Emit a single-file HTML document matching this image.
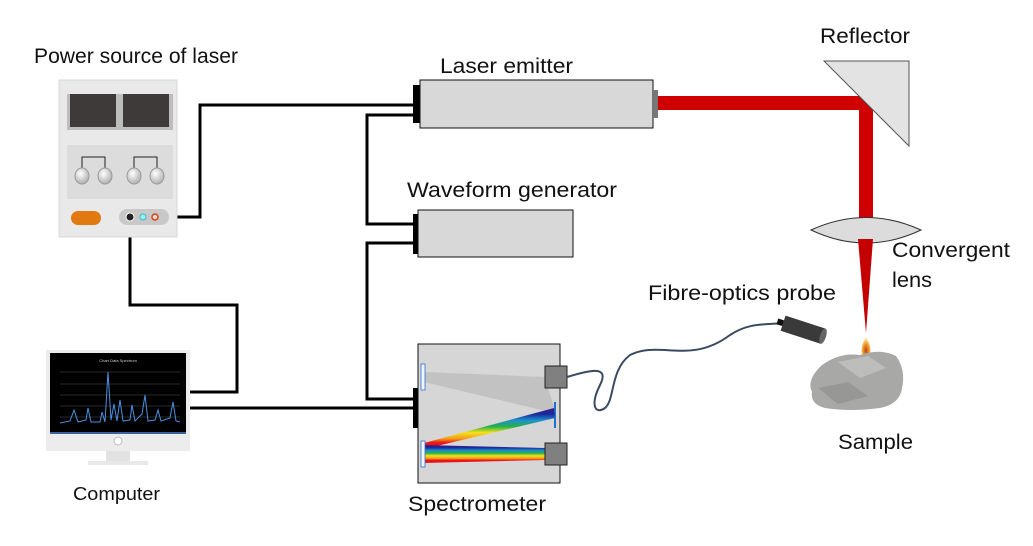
<!DOCTYPE html>
<html><head><meta charset="utf-8"><style>
html,body{margin:0;padding:0;background:#fff;}
svg{display:block;}
text{font-family:"Liberation Sans",sans-serif;fill:#111;}
</style></head><body>
<svg width="1033" height="546" viewBox="0 0 1033 546" xmlns="http://www.w3.org/2000/svg">
<defs>
<linearGradient id="rb" x1="0" y1="0" x2="0" y2="1">
<stop offset="0" stop-color="#3b1a8c"/><stop offset="0.15" stop-color="#1a2a9a"/><stop offset="0.3" stop-color="#1e8fd0"/><stop offset="0.45" stop-color="#22b04a"/><stop offset="0.6" stop-color="#f5e21a"/><stop offset="0.75" stop-color="#f59a1a"/><stop offset="0.85" stop-color="#e8141a"/><stop offset="1" stop-color="#e8141a"/>
</linearGradient>
<radialGradient id="knob" cx="0.4" cy="0.35" r="0.7"><stop offset="0" stop-color="#fff"/><stop offset="1" stop-color="#aaa"/></radialGradient>
<radialGradient id="fl" cx="0.5" cy="0.7" r="0.6"><stop offset="0" stop-color="#c0401a"/><stop offset="0.6" stop-color="#f0a030"/><stop offset="1" stop-color="#ffe9a0"/></radialGradient>
</defs>

<!-- labels -->
<text x="34" y="63" font-size="21" textLength="204" lengthAdjust="spacingAndGlyphs">Power source of laser</text>
<text x="440" y="73" font-size="21" textLength="133" lengthAdjust="spacingAndGlyphs">Laser emitter</text>
<text x="820" y="43" font-size="21" textLength="90" lengthAdjust="spacingAndGlyphs">Reflector</text>
<text x="407" y="197" font-size="21" textLength="210" lengthAdjust="spacingAndGlyphs">Waveform generator</text>
<text x="892" y="257" font-size="21" textLength="118" lengthAdjust="spacingAndGlyphs">Convergent</text>
<text x="892" y="287" font-size="21" textLength="40" lengthAdjust="spacingAndGlyphs">lens</text>
<text x="648" y="300" font-size="21" textLength="188" lengthAdjust="spacingAndGlyphs">Fibre-optics probe</text>
<text x="838" y="449" font-size="21" textLength="75" lengthAdjust="spacingAndGlyphs">Sample</text>
<text x="73" y="500" font-size="18" textLength="87" lengthAdjust="spacingAndGlyphs">Computer</text>
<text x="408" y="511" font-size="21" textLength="138" lengthAdjust="spacingAndGlyphs">Spectrometer</text>

<!-- wires -->
<g fill="none" stroke="#000" stroke-width="3">
<polyline points="155,217 200,217 200,105 414,105"/>
<polyline points="414,115 367,115 367,224 414,224"/>
<polyline points="414,243 367,243 367,399 414,399"/>
<polyline points="130,218 130,305 237,305 237,392 190,392"/>
<polyline points="190,408 414,408"/>
</g>

<!-- power source -->
<rect x="59" y="80" width="118" height="157" fill="#e9e9e9" stroke="#d8d8d8"/>
<rect x="67" y="94" width="106" height="36" fill="#bdbdbd"/>
<rect x="70" y="94" width="46" height="33" fill="#3f3a3a"/>
<rect x="123" y="94" width="46" height="33" fill="#3f3a3a"/>
<rect x="67" y="145" width="106" height="54" fill="#dcdcdc"/>
<g fill="none" stroke="#222" stroke-width="1"><polyline points="82,176 82,157 105,157 105,176"/><polyline points="134,176 134,157 157,157 157,176"/></g>
<g fill="url(#knob)" stroke="#999"><ellipse cx="82" cy="176" rx="7" ry="8"/><ellipse cx="105" cy="176" rx="7" ry="8"/><ellipse cx="134" cy="176" rx="7" ry="8"/><ellipse cx="157" cy="176" rx="7" ry="8"/></g>
<rect x="71" y="211" width="30" height="14" rx="7" fill="#e07a10"/>
<rect x="119" y="209" width="50" height="16" rx="8" fill="#c8c8c8"/>
<circle cx="130" cy="217" r="4" fill="#222" stroke="#fff"/>
<circle cx="143" cy="217" r="3" fill="#8fe" stroke="#5ac"/>
<circle cx="155" cy="217" r="3" fill="#ddd" stroke="#e04010" stroke-width="1.5"/>

<!-- computer -->
<rect x="46" y="350" width="144" height="101" fill="#ececec"/>
<rect x="50" y="353" width="136" height="81" fill="#000"/>
<rect x="50" y="432" width="136" height="2" fill="#3a60a0"/>
<circle cx="118" cy="441" r="4" fill="#fff" stroke="#bbb"/>
<rect x="106" y="451" width="24" height="12" fill="#e2e2e2"/>
<rect x="88" y="461" width="60" height="4" fill="#e8e8e8"/>
<g stroke="#555" stroke-width="0.5"><line x1="60" y1="372" x2="180" y2="372"/><line x1="60" y1="384" x2="180" y2="384"/><line x1="60" y1="395" x2="180" y2="395"/><line x1="60" y1="406" x2="180" y2="406"/><line x1="60" y1="417" x2="180" y2="417"/></g>
<polyline fill="none" stroke="#4a90e0" stroke-width="1" points="60,423 70,421 74,410 78,422 86,420 88,408 91,422 100,422 102,412 105,422 108,372 111,420 114,404 117,421 120,400 123,421 130,420 132,405 135,421 142,414 145,395 148,421 155,420 158,410 161,421 170,418 173,402 176,421 180,422"/>
<text x="118" y="362" font-size="4" text-anchor="middle" style="fill:#ccc">Chart Data Spectrum</text>

<!-- laser emitter -->
<rect x="413" y="85" width="7" height="38" fill="#000"/>
<rect x="420" y="80" width="233" height="48" fill="#d8d8d8" stroke="#111"/>
<rect x="653" y="90" width="5" height="28" fill="#777"/>
<rect x="658" y="96" width="215" height="14" fill="#d00000"/>
<rect x="859" y="96" width="14" height="126" fill="#d00000"/>
<polygon points="824,61 909,61 909,146" fill="#e3e3e3" stroke="#555"/>
<path d="M811,230 Q866,205 921,230 Q866,256 811,230 Z" fill="#dcdcdc" stroke="#333"/>
<polygon points="858,239 873,239 866,333" fill="#c40000"/>
<path d="M866,337 Q872,347 870,354 Q866,358 862,354 Q860,347 866,337 Z" fill="url(#fl)"/>
<!-- rock -->
<path d="M822,365 Q840,352 860,355 Q880,348 896,356 Q906,370 902,388 Q900,404 880,408 Q850,412 825,408 Q810,404 812,392 Q806,380 822,365 Z" fill="#a8a8a6"/>
<path d="M838,362 L868,356 L886,368 L860,378 Z" fill="#bdbdbb"/>
<path d="M818,388 L848,382 L868,396 L838,404 Z" fill="#979795"/>

<!-- waveform generator -->
<rect x="413" y="214" width="5" height="40" fill="#000"/>
<rect x="418" y="210" width="155" height="47" fill="#d8d8d8" stroke="#111"/>

<!-- spectrometer -->
<rect x="413" y="388" width="5" height="40" fill="#000"/>
<rect x="418" y="344" width="142" height="139" fill="#d6d6d6" stroke="#111"/>
<polygon points="424,372 545,377 545,378 555,410 550,412 424,382" fill="#c2c2c2"/>
<rect x="421" y="364" width="4" height="26" fill="#f0f4ff" stroke="#3070d0" stroke-width="0.8"/>
<rect x="554" y="402" width="2" height="26" fill="#2070d0"/>
<polygon points="424,443 554,408 555,418 424,449" fill="url(#rb)"/>
<polygon points="424,445 545,448 545,460 424,463" fill="url(#rb)"/>
<rect x="421" y="441" width="4" height="26" fill="#f0f4ff" stroke="#3070d0" stroke-width="0.8"/>
<rect x="545" y="366" width="22" height="22" fill="#808080" stroke="#222"/>
<rect x="545" y="443" width="22" height="22" fill="#808080" stroke="#222"/>

<!-- fibre -->
<path d="M567,377 C590,370 610,365 600,385 C590,405 595,415 605,408 C615,400 610,370 630,355 C660,340 690,365 730,335 C750,322 765,325 784,323" fill="none" stroke="#3a4a60" stroke-width="2"/>
<g transform="translate(804,330) rotate(18)">
<rect x="-22" y="-8" width="42" height="16" fill="#3a3a3a"/>
<ellipse cx="20" cy="0" rx="3" ry="8" fill="#666"/>
<rect x="-28" y="-3" width="6" height="6" fill="#111"/>
</g>
</svg>
</body></html>
